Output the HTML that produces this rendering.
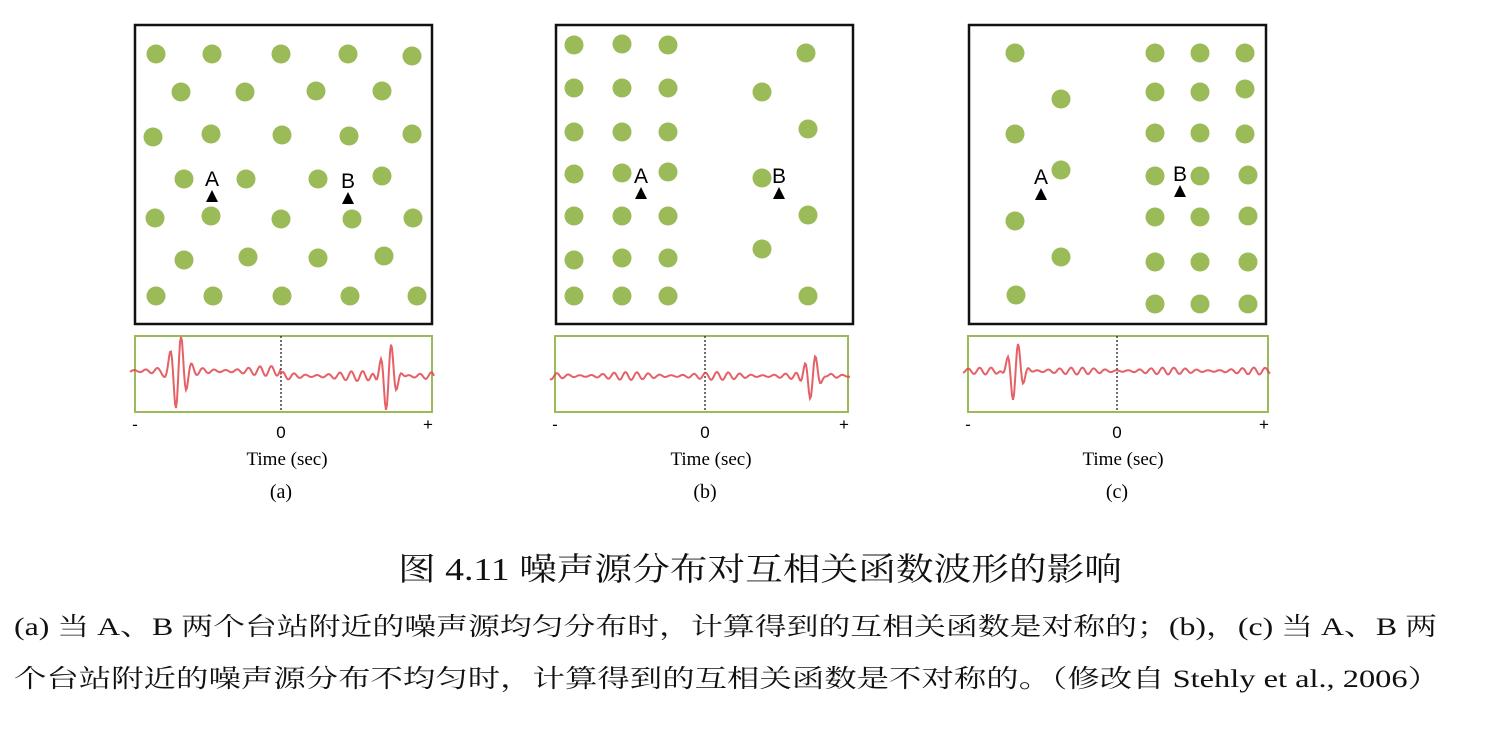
<!DOCTYPE html>
<html><head><meta charset="utf-8"><style>
body{margin:0;background:#fff;width:1495px;height:737px;overflow:hidden}
svg{display:block}
.cap{font-family:"Liberation Serif","Noto Serif CJK SC",serif;fill:#111}
</style></head><body>
<svg id="fig" width="1495" height="737">
<g id="panels"></g>
<text class="cap" x="398" y="580" font-size="32" textLength="724" lengthAdjust="spacingAndGlyphs">图 4.11 噪声源分布对互相关函数波形的影响</text>
<text class="cap" x="14" y="635" font-size="25" textLength="1423" lengthAdjust="spacingAndGlyphs">(a) 当 A、B 两个台站附近的噪声源均匀分布时，计算得到的互相关函数是对称的；(b)，(c) 当 A、B 两</text>
<text class="cap" x="14" y="687" font-size="25" textLength="1426" lengthAdjust="spacingAndGlyphs">个台站附近的噪声源分布不均匀时，计算得到的互相关函数是不对称的。（修改自 Stehly et al., 2006）</text>
</svg>
<script>
const panelLabels=["(a)","(b)","(c)"];
const dotsA=[[156,54],[212,54],[281,54],[348,54],[412,56],[181,92],[245,92],[316,91],[382,91],[153,137],[211,134],[282,135],[349,136],[412,134],[184,179],[246,179],[318,179],[382,176],[155,218],[211,216],[281,219],[352,219],[413,218],[184,260],[248,257],[318,258],[384,256],[156,296],[213,296],[282,296],[350,296],[417,296]];
const dotsB=[[574,45],[622,44],[668,45],[574,88],[622,88],[668,88],[574,132],[622,132],[668,132],[574,174],[622,173],[668,172],[574,216],[622,216],[668,216],[574,260],[622,258],[668,258],[574,296],[622,296],[668,296],[806,53],[762,92],[808,129],[762,178],[808,215],[762,249],[808,296]];
const dotsC=[[1015,53],[1061,99],[1015,134],[1061,170],[1015,221],[1061,257],[1016,295],[1155,53],[1200,53],[1245,53],[1155,92],[1200,92],[1245,89],[1155,133],[1200,133],[1245,134],[1155,176],[1200,176],[1248,175],[1155,217],[1200,217],[1248,216],[1155,262],[1200,262],[1248,262],[1155,304],[1200,304],[1248,304]];
const packetsA=[[-103,36],[107,38]];
const packetsB=[[107,26]];
const packetsC=[[-102,32]];
const panels=[
 {box:[135,25,297,299],wave:[135,336,297,76],zero:281,dots:dotsA,packets:packetsA,A:[212,196],B:[348,198],base:[371,376],ripple:5},
 {box:[556,25,297,299],wave:[555,336,293,76],zero:705,dots:dotsB,packets:packetsB,A:[641,193],B:[779,193],base:[376,376],ripple:4},
 {box:[969,25,297,299],wave:[968,336,300,76],zero:1117,dots:dotsC,packets:packetsC,A:[1041,194],B:[1180,191],base:[371,371],ripple:3.5}
];
const NS="http://www.w3.org/2000/svg";
const root=document.getElementById('panels');
function mk(t,a,p){const e=document.createElementNS(NS,t);for(const k in a)e.setAttribute(k,a[k]);(p||root).appendChild(e);return e;}
panels.forEach((P,i)=>{
 const g=mk('g',{});
 
 
 const r=mk('rect',{x:P.box[0],y:P.box[1],width:P.box[2],height:P.box[3],fill:'none',stroke:'#111','stroke-width':2.5},g);
 
 
 P.dots.forEach(d=>{const c=mk('circle',{cx:d[0],cy:d[1],r:9.5,fill:'#9bbb59'},g);
  
  });
 [['A',P.A],['B',P.B]].forEach(([n,p])=>{
  const t=mk('polygon',{points:`${p[0]-6},${p[1]+6} ${p[0]+6},${p[1]+6} ${p[0]},${p[1]-6}`,fill:'#000'},g);
  
  
  const l=mk('text',{x:p[0],y:p[1]-10,'font-size':21,'text-anchor':'middle','font-family':'Liberation Sans, sans-serif'},g);
  l.textContent=n;
  
  
 });
 const W=P.wave;
 const wr=mk('rect',{x:W[0],y:W[1],width:W[2],height:W[3],fill:'none',stroke:'#9bbb59','stroke-width':2},g);
 
 
 const z=mk('line',{x1:P.zero,x2:P.zero,y1:W[1],y2:W[1]+W[3],stroke:'#222','stroke-dasharray':'2,2','stroke-width':1.3},g);
 
 
 let d='';
 for(let x=W[0]-5;x<=W[0]+W[2]+2;x+=1){
  const base=x<P.zero?P.base[0]:P.base[1];
  let y=base+P.ripple*Math.sin(x*0.55)*(0.6+0.4*Math.cos(x*0.07));
  P.packets.forEach(([o,a])=>{const u=x-(P.zero+o);y+=a*Math.exp(-(u/9)*(u/9))*Math.cos(2*Math.PI*u/11+1.2);});
  y=Math.max(W[1]+1,Math.min(W[1]+W[3]-1,y));
  d+=(d?'L':'M')+x+','+y.toFixed(1);
 }
 const pth=mk('path',{d,fill:'none',stroke:'#e0454b','stroke-width':2,opacity:0.85},g);
 
 
 const tk=[['-',W[0],430],['0',P.zero,438],['+',W[0]+W[2]-4,430]];
 tk.forEach(([s,x,y])=>{const t=mk('text',{x,y,'font-size':17,'text-anchor':'middle','font-family':'Liberation Sans, sans-serif'},g);t.textContent=s;
  
  });
 const xt=mk('text',{x:P.zero+6,y:465,'font-size':19,'text-anchor':'middle','font-family':'Liberation Serif, serif'},g);
 xt.textContent='Time (sec)';
 
 
 const pl=mk('text',{x:P.zero,y:498,'font-size':20,'text-anchor':'middle','font-family':'Liberation Serif, serif'},g);
 pl.textContent=panelLabels[i];
 
 
});
</script>
</body></html>
